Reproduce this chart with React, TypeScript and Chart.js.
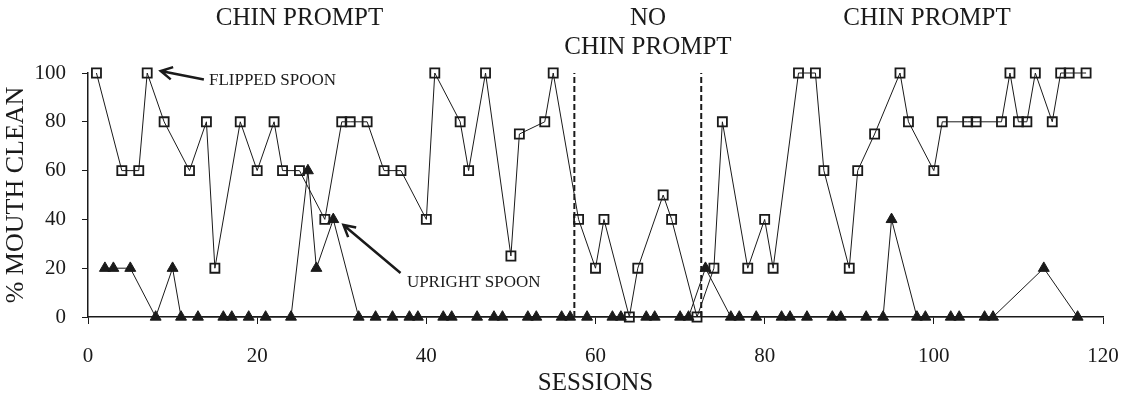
import React, { useEffect, useRef } from "react";
import { Chart, registerables } from "chart.js";

Chart.register(...registerables);

// ---- Data ----
const flippedSessions = [
  1, 4, 6, 7, 9, 12, 14, 15, 18, 20, 22, 23, 25, 28, 30, 31, 33, 35, 37, 40,
  41, 44, 45, 47, 50, 51, 54, 55, 58, 60, 61, 64, 65, 68, 69, 72, 74, 75, 78, 80,
  81, 84, 86, 87, 90, 91, 93, 96, 97, 100, 101, 104, 105, 108, 109, 110, 111, 112, 114, 115,
  116, 118,
];
const flippedValues = [
  100, 60, 60, 100, 80, 60, 80, 20, 80, 60, 80, 60, 60, 40, 80, 80, 80, 60, 60, 40,
  100, 80, 60, 100, 25, 75, 80, 100, 40, 20, 40, 0, 20, 50, 40, 0, 20, 80, 20, 40,
  20, 100, 100, 60, 20, 60, 75, 100, 80, 60, 80, 80, 80, 80, 100, 80, 80, 100, 80, 100,
  100, 100,
];

const uprightSessions = [
  2, 3, 5, 8, 10, 11, 13, 16, 17, 19, 21, 24, 26, 27, 29, 32, 34, 36, 38, 39,
  42, 43, 46, 48, 49, 52, 53, 56, 57, 59, 62, 63, 66, 67, 70, 71, 73, 76, 77, 79,
  82, 83, 85, 88, 89, 92, 94, 95, 98, 99, 102, 103, 106, 107, 113, 117,
];
const uprightValues = [
  20, 20, 20, 0, 20, 0, 0, 0, 0, 0, 0, 0, 60, 20, 40, 0, 0, 0, 0, 0,
  0, 0, 0, 0, 0, 0, 0, 0, 0, 0, 0, 0, 0, 0, 0, 0, 20, 0, 0, 0,
  0, 0, 0, 0, 0, 0, 0, 40, 0, 0, 0, 0, 0, 0, 20, 0,
];

const phaseChangeLines = [57.5, 72.5];

const phaseLabelX = [25, 66.2, 99.2];
const phaseLabelLines = [["CHIN PROMPT"], ["NO", "CHIN PROMPT"], ["CHIN PROMPT"]];

const flippedArrowTip = { x: 8.6, y: 100.8 };
const flippedArrowTail = { x: 13.7, y: 97.3 };
const flippedLabelPos = { x: 14.3, y: 97 };
const uprightArrowTip = { x: 30.2, y: 37.7 };
const uprightArrowTail = { x: 36.95, y: 18 };
const uprightLabelPos = { x: 37.7, y: 14 };

const FONT = '"Liberation Serif", "Times New Roman", serif';
const INK = "#1a1a1a";

function drawArrow(ctx: CanvasRenderingContext2D, tx: number, ty: number, fx: number, fy: number) {
  const ang = Math.atan2(ty - fy, tx - fx);
  const head = 13;
  const spread = 0.5;
  ctx.beginPath();
  ctx.moveTo(fx, fy);
  ctx.lineTo(tx, ty);
  ctx.moveTo(tx - head * Math.cos(ang - spread), ty - head * Math.sin(ang - spread));
  ctx.lineTo(tx, ty);
  ctx.lineTo(tx - head * Math.cos(ang + spread), ty - head * Math.sin(ang + spread));
  ctx.stroke();
}

const annotationPlugin = {
  id: "phaseAnnotations",
  afterDatasetsDraw(chart: any) {
    const { ctx, scales } = chart;
    const x = scales.x;
    const y = scales.y;
    ctx.save();
    ctx.fillStyle = INK;
    ctx.strokeStyle = INK;
    // phase labels
    ctx.font = `25px ${FONT}`;
    ctx.textAlign = "center";
    ctx.textBaseline = "middle";
    phaseLabelX.forEach((px, i) => {
      phaseLabelLines[i].forEach((line, j) => {
        ctx.fillText(line, x.getPixelForValue(px), 18 + j * 29);
      });
    });
    // arrows
    ctx.lineWidth = 2.5;
    ctx.lineCap = "butt";
    drawArrow(
      ctx,
      x.getPixelForValue(flippedArrowTip.x),
      y.getPixelForValue(flippedArrowTip.y),
      x.getPixelForValue(flippedArrowTail.x),
      y.getPixelForValue(flippedArrowTail.y)
    );
    drawArrow(
      ctx,
      x.getPixelForValue(uprightArrowTip.x),
      y.getPixelForValue(uprightArrowTip.y),
      x.getPixelForValue(uprightArrowTail.x),
      y.getPixelForValue(uprightArrowTail.y)
    );
    ctx.font = `17px ${FONT}`;
    ctx.textAlign = "left";
    ctx.fillText("FLIPPED SPOON", x.getPixelForValue(flippedLabelPos.x), y.getPixelForValue(flippedLabelPos.y));
    ctx.fillText("UPRIGHT SPOON", x.getPixelForValue(uprightLabelPos.x), y.getPixelForValue(uprightLabelPos.y));
    ctx.restore();
  },
};

export default function App() {
  const canvasRef = useRef<HTMLCanvasElement | null>(null);

  useEffect(() => {
    if (!canvasRef.current) return;
    const dashed = phaseChangeLines.map((v) => ({
      type: "line" as const,
      data: [
        { x: v, y: 0 },
        { x: v, y: 100 },
      ],
      borderColor: INK,
      borderWidth: 2,
      borderDash: [6, 3],
      pointRadius: 0,
      clip: false as any,
    }));
    const chart = new Chart(canvasRef.current, {
      type: "line",
      data: {
        datasets: [
          {
            label: "UPRIGHT SPOON",
            data: uprightSessions.map((s, i) => ({ x: s, y: uprightValues[i] })),
            borderColor: INK,
            borderWidth: 1,
            pointStyle: "triangle",
            pointRadius: 6.3,
            pointBackgroundColor: INK,
            pointBorderColor: INK,
            pointBorderWidth: 1,
            clip: false as any,
          },
          {
            label: "FLIPPED SPOON",
            data: flippedSessions.map((s, i) => ({ x: s, y: flippedValues[i] })),
            borderColor: INK,
            borderWidth: 1,
            pointStyle: "rect",
            pointRadius: 6.4,
            pointBackgroundColor: "rgba(255,255,255,0)",
            pointBorderColor: INK,
            pointBorderWidth: 1.8,
            clip: false as any,
          },
          ...dashed,
        ],
      },
      options: {
        animation: false,
        responsive: false,
        layout: { padding: { top: 73, right: 27, left: 0, bottom: 0 } },
        plugins: {
          legend: { display: false },
          tooltip: { enabled: false },
        },
        elements: { line: { tension: 0 } },
        scales: {
          x: {
            type: "linear",
            min: 0,
            max: 120,
            afterFit: (scale: any) => {
              scale.height = 83;
              scale.paddingLeft = 0;
              scale.paddingRight = 0;
            },
            ticks: {
              stepSize: 20,
              color: INK,
              padding: 20,
              font: { family: FONT, size: 21 },
              maxRotation: 0,
            },
            grid: {
              drawOnChartArea: false,
              drawTicks: true,
              tickLength: 7,
              color: INK,
              lineWidth: 1,
            },
            border: { display: true, color: INK, width: 1.5 },
            title: {
              display: true,
              text: "SESSIONS",
              color: INK,
              font: { family: FONT, size: 25 },
              padding: { top: 0, bottom: 2 },
            },
          },
          y: {
            type: "linear",
            min: 0,
            max: 100,
            afterFit: (scale: any) => {
              scale.width = 88;
            },
            ticks: {
              stepSize: 20,
              color: INK,
              padding: 16,
              font: { family: FONT, size: 21 },
            },
            grid: {
              drawOnChartArea: false,
              drawTicks: true,
              tickLength: 6,
              color: INK,
              lineWidth: 1,
            },
            border: { display: true, color: INK, width: 1.5 },
            title: {
              display: true,
              text: "% MOUTH CLEAN",
              color: INK,
              font: { family: FONT, size: 26 },
              padding: { top: 1, bottom: 0 },
            },
          },
        },
      },
      plugins: [annotationPlugin],
    });
    return () => chart.destroy();
  }, []);

  return (
    <div style={{ position: "absolute", left: 0, top: 0, width: 1130, height: 400, background: "#fff" }}>
      <canvas ref={canvasRef} width={1130} height={400} style={{ width: 1130, height: 400, display: "block" }} />
    </div>
  );
}
